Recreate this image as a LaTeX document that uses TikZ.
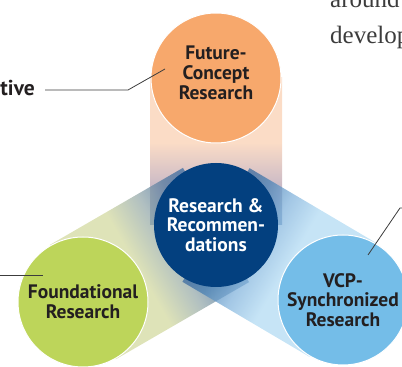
\documentclass[tikz,border=0pt]{standalone}
\usepackage{fontspec}
\setmainfont{PT Sans}
\newfontfamily\paraserif{Liberation Serif}
\usetikzlibrary{positioning}

\definecolor{fcorange}{RGB}{247,168,108}
\definecolor{fdgreen}{RGB}{189,213,90}
\definecolor{vsblue}{RGB}{116,189,232}
\definecolor{rrblue}{RGB}{3,64,127}
\definecolor{inkdark}{RGB}{35,31,32}
\definecolor{leadgray}{RGB}{60,60,60}
\definecolor{paragray}{RGB}{60,60,60}
% tube colours (drawn at 0.75 opacity)
\definecolor{tubein}{RGB}{60,108,160}
\definecolor{fcmid}{RGB}{181,160,179}
\definecolor{fclight}{RGB}{249,208,179}
\definecolor{fdnear}{RGB}{85,122,160}
\definecolor{fdmid}{RGB}{150,170,172}
\definecolor{fdlight}{RGB}{211,217,160}
\definecolor{vsnear}{RGB}{72,128,180}
\definecolor{vsmid}{RGB}{132,180,220}
\definecolor{vslight}{RGB}{179,219,243}

\pgfdeclarehorizontalshading{fctube}{100bp}{color(0bp)=(tubein); color(25bp)=(tubein);
  color(37.5bp)=(fcmid); color(53bp)=(fclight); color(100bp)=(fclight)}
\pgfdeclarehorizontalshading{fdtube}{100bp}{color(0bp)=(tubein); color(27bp)=(tubein);
  color(33bp)=(fdnear); color(42bp)=(fdmid); color(54bp)=(fdlight); color(100bp)=(fdlight)}
\pgfdeclarehorizontalshading{vstube}{100bp}{color(0bp)=(tubein); color(27bp)=(tubein);
  color(33bp)=(vsnear); color(42bp)=(vsmid); color(53bp)=(vslight); color(100bp)=(vslight)}

\newcommand{\bubblefont}{\bfseries\fontsize{19.5}{19.8}\selectfont}

\begin{document}
\begin{tikzpicture}[x=1pt,y=1pt,
  bubble/.style={circle, draw=white, line width=1pt, minimum size=130pt,
    inner sep=0pt, align=center, font=\bubblefont, text=inkdark},
  tube/.style={fill opacity=0.75},
  leader/.style={draw=leadgray, line width=0.8pt}]
  \path[use as bounding box] (0,0) rectangle (402,367);
  \clip (0,0) rectangle (402,367);

  % tubes from the centre out to each circle
  \begin{scope}[transform canvas={shift={(216,142)},rotate=90}]
    \shade[shading=fctube, tube] (0,-66) rectangle (147,66);
  \end{scope}
  \begin{scope}[transform canvas={shift={(216,142)},rotate=210.06}]
    \shade[shading=fdtube, tube] (0,-66) rectangle (154,66);
  \end{scope}
  \begin{scope}[transform canvas={shift={(216,142)},rotate=-30.56}]
    \shade[shading=vstube, tube] (0,-66) rectangle (147.5,66);
  \end{scope}

  % circles
  \node[bubble, fill=fcorange] (fc) at (216,289) {};
  \node[inner sep=0pt, align=center, font=\bubblefont, text=inkdark] (fctext)
    at (216,294) {Future-\\Concept\\Research};
  \node[bubble, fill=fdgreen] (fd) at (83,65) {Foundational\\Research};
  \node[bubble, fill=vsblue] (vs) at (343,67) {VCP-\\Synchronized\\Research};
  \node[bubble, fill=rrblue, draw=none, minimum size=124pt, text=white] (rr)
    at (216,142) {Research \&\\Recommen-\\dations};

  % labels outside
  \node[anchor=base east, inner sep=0pt, font=\bfseries\fontsize{21.5}{23}\selectfont,
    text=inkdark] (tive) at (35,271) {tive};
  \node[anchor=base west, inner sep=0pt, font=\paraserif\fontsize{25}{34}\selectfont,
    text=paragray] (around) at (330,359) {around};
  \node[anchor=base west, inner sep=0pt, font=\paraserif\fontsize{25}{34}\selectfont,
    text=paragray] (develop) at (330,323) {develop};

  % leader lines
  \coordinate (fcbend) at (128,277);
  \coordinate (fcpin) at (165,298);
  \draw[leader] ([xshift=10pt]tive.east |- fcbend) -- (fcbend) -- (fcpin);
  \coordinate (fdend) at (0,92);
  \coordinate (fdpin) at (43,92);
  \draw[leader] (fdend) -- (fdpin);
  \coordinate (vspin) at (368,112);
  \coordinate (vsbend) at (400,159);
  \coordinate (vsend) at (406,159);
  \draw[leader] (vspin) -- (vsbend) -- (vsend);
\end{tikzpicture}
\end{document}
